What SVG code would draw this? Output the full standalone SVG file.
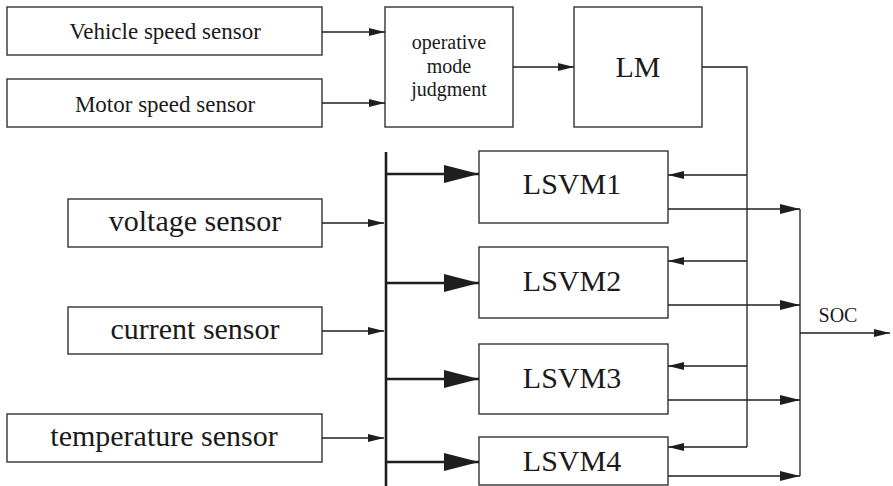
<svg xmlns="http://www.w3.org/2000/svg" width="893" height="486" viewBox="0 0 893 486">
  <style>
    .box { fill: #ffffff; stroke: #333333; stroke-width: 1.4; }
    .wire { fill: none; stroke: #1e1e1e; stroke-width: 1.3; }
    .bus { fill: none; stroke: #1e1e1e; stroke-width: 2.6; }
    text { font-family: 'Liberation Serif', Tinos, 'Times New Roman', Times, 'Noto Serif', 'DejaVu Serif', serif; fill: #1a1a1a; text-anchor: middle; }
    .t23 { font-size: 23px; }
    .t30 { font-size: 30px; }
    .t20 { font-size: 20px; }
  </style>
  <defs>
    <marker id="arr" viewBox="0 0 16 8" refX="16" refY="4" markerWidth="16" markerHeight="8" markerUnits="userSpaceOnUse" orient="auto">
      <path d="M0,0 L16,4 L0,8 Z" fill="#1e1e1e"/>
    </marker>
    <marker id="arrMid" viewBox="0 0 20 10" refX="20" refY="5" markerWidth="20" markerHeight="10" markerUnits="userSpaceOnUse" orient="auto">
      <path d="M0,0 L20,5 L0,10 Z" fill="#1e1e1e"/>
    </marker>
    <marker id="arrBus" viewBox="0 0 35 18" refX="35" refY="9" markerWidth="35" markerHeight="18" markerUnits="userSpaceOnUse" orient="auto">
      <path d="M0,0 L35,9 L0,18 Z" fill="#1e1e1e"/>
    </marker>
  </defs>

  <!-- sensors -->
  <g id="vehicle-speed-sensor">
    <rect class="box" x="7" y="7" width="315" height="48"/>
    <text class="t23" x="165" y="39" font-family="Liberation Serif, serif">Vehicle speed sensor</text>
  </g>
  <g id="motor-speed-sensor">
    <rect class="box" x="7" y="79" width="315" height="48"/>
    <text class="t23" x="165" y="112" font-family="Liberation Serif, serif">Motor speed sensor</text>
  </g>
  <g id="voltage-sensor">
    <rect class="box" x="68" y="199" width="254" height="48"/>
    <text class="t30" x="195" y="231" font-family="Liberation Serif, serif">voltage sensor</text>
  </g>
  <g id="current-sensor">
    <rect class="box" x="68" y="307" width="254" height="47"/>
    <text class="t30" x="195" y="339" font-family="Liberation Serif, serif">current sensor</text>
  </g>
  <g id="temperature-sensor">
    <rect class="box" x="7" y="414" width="315" height="48"/>
    <text class="t30" x="164" y="446" font-family="Liberation Serif, serif">temperature sensor</text>
  </g>

  <!-- mode logic -->
  <g id="mode-judgment">
    <rect class="box" x="385" y="7" width="128" height="120"/>
    <text class="t20" x="449" y="49" font-family="Liberation Serif, serif">operative</text>
    <text class="t20" x="449" y="73" font-family="Liberation Serif, serif">mode</text>
    <text class="t20" x="449" y="96" font-family="Liberation Serif, serif">judgment</text>
  </g>
  <g id="lm">
    <rect class="box" x="574" y="7" width="128" height="120"/>
    <text class="t30" x="638" y="77" font-family="Liberation Serif, serif">LM</text>
  </g>

  <!-- sub-models -->
  <g id="lsvm1">
    <rect class="box" x="479" y="151" width="189" height="72"/>
    <text class="t30" x="572" y="194" font-family="Liberation Serif, serif">LSVM1</text>
  </g>
  <g id="lsvm2">
    <rect class="box" x="479" y="247" width="189" height="71"/>
    <text class="t30" x="572" y="291" font-family="Liberation Serif, serif">LSVM2</text>
  </g>
  <g id="lsvm3">
    <rect class="box" x="479" y="344" width="189" height="70"/>
    <text class="t30" x="572" y="388" font-family="Liberation Serif, serif">LSVM3</text>
  </g>
  <g id="lsvm4">
    <rect class="box" x="479" y="437" width="189" height="48"/>
    <text class="t30" x="572" y="471" font-family="Liberation Serif, serif">LSVM4</text>
  </g>

  <g id="soc-label">
    <text class="t20" x="838" y="322" font-family="Liberation Serif, serif">SOC</text>
  </g>

  <g id="connectors">
    <!-- speed sensors to mode judgment -->
    <line class="wire" x1="322" y1="32" x2="385" y2="32" marker-end="url(#arr)"/>
    <line class="wire" x1="322" y1="103" x2="385" y2="103" marker-end="url(#arr)"/>
    <!-- mode judgment to LM -->
    <line class="wire" x1="513" y1="67" x2="574" y2="67" marker-end="url(#arr)"/>

    <!-- battery sensors to bus -->
    <line class="wire" x1="322" y1="223" x2="384" y2="223" marker-end="url(#arr)"/>
    <line class="wire" x1="322" y1="331" x2="384" y2="331" marker-end="url(#arr)"/>
    <line class="wire" x1="322" y1="438" x2="384" y2="438" marker-end="url(#arr)"/>

    <!-- bus and branches -->
    <line class="bus" x1="386" y1="152" x2="386" y2="486"/>
    <line class="bus" x1="386" y1="174" x2="479" y2="174" marker-end="url(#arrBus)"/>
    <line class="bus" x1="386" y1="283" x2="479" y2="283" marker-end="url(#arrBus)"/>
    <line class="bus" x1="386" y1="379" x2="479" y2="379" marker-end="url(#arrBus)"/>
    <line class="bus" x1="386" y1="462" x2="479" y2="462" marker-end="url(#arrBus)"/>

    <!-- LM feedback to sub-models -->
    <polyline class="wire" points="702,67 747,67 747,447"/>
    <line class="wire" x1="747" y1="175" x2="668" y2="175" marker-end="url(#arr)"/>
    <line class="wire" x1="747" y1="261" x2="668" y2="261" marker-end="url(#arr)"/>
    <line class="wire" x1="747" y1="366" x2="668" y2="366" marker-end="url(#arr)"/>
    <line class="wire" x1="747" y1="447" x2="668" y2="447" marker-end="url(#arr)"/>

    <!-- sub-model outputs to SOC -->
    <line class="wire" x1="668" y1="209" x2="800" y2="209" marker-end="url(#arrMid)"/>
    <line class="wire" x1="668" y1="305" x2="800" y2="305" marker-end="url(#arrMid)"/>
    <line class="wire" x1="668" y1="400" x2="800" y2="400" marker-end="url(#arrMid)"/>
    <line class="wire" x1="668" y1="476" x2="800" y2="476" marker-end="url(#arrMid)"/>
    <line class="wire" x1="800" y1="209" x2="800" y2="476"/>
    <line class="wire" x1="800" y1="333" x2="890" y2="333" marker-end="url(#arr)"/>
  </g>
</svg>
